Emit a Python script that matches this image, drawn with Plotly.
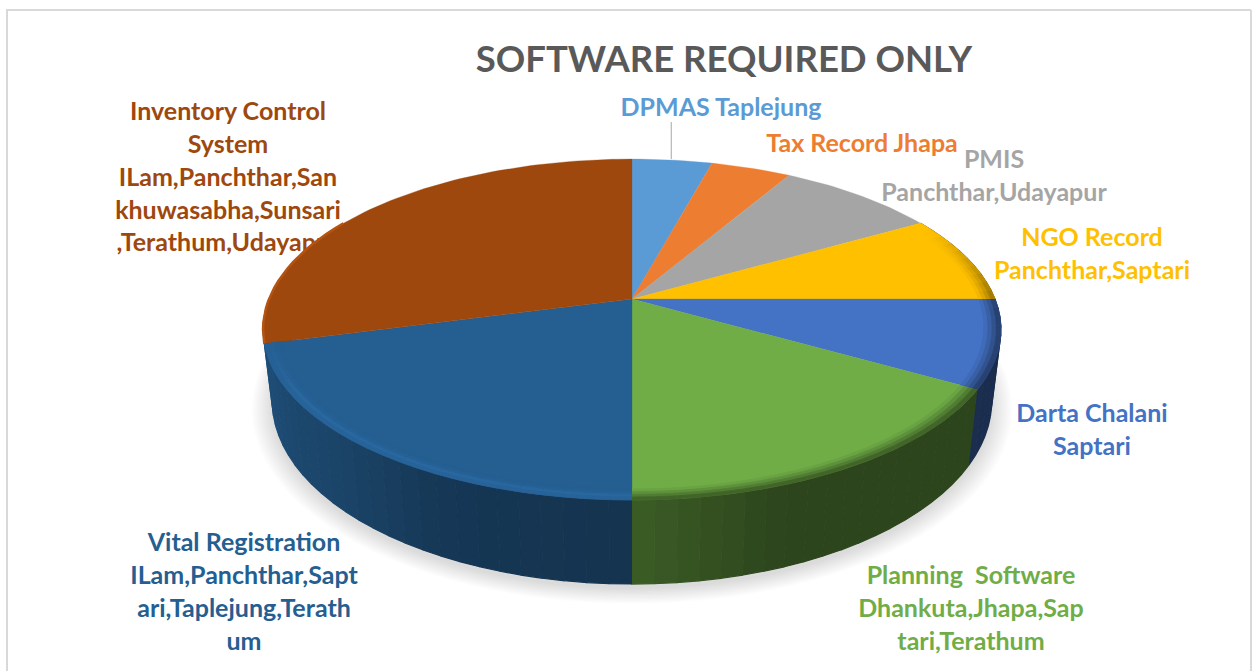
import numpy as np
import plotly.graph_objects as go

TITLE = "SOFTWARE REQUIRED ONLY"
names = ["DPMAS Taplejung", "Tax Record Jhapa", "PMIS Panchthar,Udayapur", "NGO Record Panchthar,Saptari",
         "Darta Chalani Saptari", "Planning Software Dhankuta,Jhapa,Saptari,Terathum",
         "Vital Registration ILam,Panchthar,Saptari,Taplejung,Terathum",
         "Inventory Control System ILam,Panchthar,Sankhuwasabha,Sunsari,Terathum,Udayapur"]
values = [1, 1, 2, 2, 2, 4, 5, 7]
colors = ["#5B9BD5", "#ED7D31", "#A5A5A5", "#FFC000", "#4472C4", "#70AD47", "#255E91", "#9E480E"]
label_lines = [
    ["DPMAS Taplejung"],
    ["Tax Record Jhapa"],
    ["PMIS", "Panchthar,Udayapur"],
    ["NGO Record", "Panchthar,Saptari"],
    ["Darta Chalani", "Saptari"],
    ["Planning  Software", "Dhankuta,Jhapa,Sap", "tari,Terathum"],
    ["Vital Registration", "ILam,Panchthar,Sapt", "ari,Taplejung,Terath", "um"],
    ["Inventory Control", "System", "ILam,Panchthar,San", "khuwasabha,Sunsari", ",Terathum,Udayapur"],
]
label_x = [721, 862, 994, 1092, 1092, 971, 244, 228]
label_y = [110, 146, 162, 240, 416, 578, 545, 114]

# camera of the tilted disc
CX, CY, RX, RY, PERSP, DEPTH, TAPER = 632, 299, 363, 165, 0.179, 69, 0.975
LINE_H = 32.8
FONT = "Lato"


def project(theta_deg, r=1.0, lower=False):
    t = np.radians(theta_deg)
    u, v = r * np.sin(t), r * np.cos(t)
    d = 1 + PERSP * v
    x = RX * u / d
    y = CY - RY * v / d
    if lower:
        y = y + DEPTH / d
        x = x * TAPER
    return CX + x, y


def hex_rgb(h):
    return np.array([int(h[i:i + 2], 16) for i in (1, 3, 5)], float)


def css(c):
    c = np.clip(c, 0, 255).round().astype(int)
    return f"rgb({c[0]},{c[1]},{c[2]})"


def poly(xs, ys, color, lw=0.6):
    return go.Scatter(x=xs, y=ys, mode="lines", fill="toself", fillcolor=color,
                      line=dict(color=color, width=lw), hoverinfo="skip", showlegend=False)


def text_trace(i):
    lines = label_lines[i]
    return go.Scatter(x=[label_x[i]] * len(lines), y=[label_y[i] + k * LINE_H for k in range(len(lines))],
                      mode="text", text=lines, textposition="middle center",
                      textfont=dict(family=FONT, size=25, color=colors[i], weight=700),
                      hoverinfo="skip", showlegend=False)


edges = np.concatenate([[0], np.cumsum(values)]) * 360.0 / sum(values)
fig = go.Figure()

# soft shadow under the body
ths = np.arange(0, 360.5, 3)
for grow in np.linspace(1.055, 1.0, 12):
    xs, ys = project(ths, grow, True)
    fig.add_trace(poly(xs, ys + 5, "rgba(0,0,0,0.011)", 0))

# the inventory label sits beneath the disc
fig.add_trace(text_trace(7))

# rim, drawn as narrow strips with a side light
STEP = 3
shade_t = [60, 120, 160, 178, 181, 205, 225, 255, 285]
shade_f = [.38, .40, .40, .52, .55, .58, .72, .82, .82]


def slice_of(th):
    return min(int(np.searchsorted(edges, th, side="right")) - 1, len(values) - 1)


for th in np.arange(60, 285, STEP):
    th2 = th + STEP
    # the last slice's wall is hidden: the wall of the slice before it runs on to the silhouette
    i = slice_of(min(th + STEP / 2, edges[-2] - 1))
    f = np.interp(th + STEP / 2, shade_t, shade_f)
    a = np.array([th, th2])
    xa, ya = project(a, 1.0)
    xb, yb = project(a[::-1], 1.0, True)
    fig.add_trace(poly(list(xa) + list(xb), list(ya) + list(yb), css(hex_rgb(colors[i]) * f), 1.2))

# top faces
for i in range(len(values)):
    a = np.linspace(edges[i], edges[i + 1], max(int(values[i]) * 12, 12))
    xs, ys = project(a)
    fig.add_trace(poly([CX] + list(xs) + [CX], [CY] + list(ys) + [CY], colors[i], 0.3))

# lit lip on the left end of the last slice
lip = np.linspace(edges[-2], edges[-2] + 45, 20)
xs, ys = project(lip)
fig.add_trace(go.Scatter(x=xs, y=ys, mode="lines", line=dict(color=css(hex_rgb(colors[-1]) * 1.15), width=2.5),
                         hoverinfo="skip", showlegend=False))

# bevel along the front edge
bands = [(0.955, 0.966), (0.966, 0.977), (0.977, 0.988), (0.988, 1.0)]
light_m = [1.0, 1.03, 1.1, 1.05]
dark_m = [0.94, 0.84, 0.72, 0.58]
for th in np.arange(60, 255, STEP):
    th2 = th + STEP
    i = slice_of(th + STEP / 2)
    base = hex_rgb(colors[i])
    a = np.array([th, th2])
    front = np.clip((th - 62) / 30, 0, 1) * np.clip((258 - th) / 22, 0, 1)
    for k, (r0, r1) in enumerate(bands):
        m = light_m[k] if th + STEP / 2 > 180 else dark_m[k]
        col = base * (1 + (m - 1) * front)
        xa, ya = project(a, r1)
        xb, yb = project(a[::-1], r0)
        fig.add_trace(poly(list(xa) + list(xb), list(ya) + list(yb), css(col), 0.8))

for i in range(7):
    fig.add_trace(text_trace(i))

fig.add_trace(go.Scatter(x=[724], y=[63], mode="text", text=[TITLE],
                         textfont=dict(family=FONT, size=36.5, color="#595959", weight=700),
                         textposition="middle center", hoverinfo="skip", showlegend=False))

# leader line of the first label
lx, ly = project((edges[0] + edges[1]) / 2)
fig.add_trace(go.Scatter(x=[lx - 1, lx - 1], y=[ly - 1, 122], mode="lines", line=dict(color="#A6A6A6", width=1),
                         hoverinfo="skip", showlegend=False))

border = dict(type="line", line=dict(color="#D9D9D9", width=2), xref="x", yref="y", layer="below")
fig.update_layout(
    width=1255, height=671, margin=dict(l=0, r=0, t=0, b=0),
    paper_bgcolor="white", plot_bgcolor="white", showlegend=False,
    xaxis=dict(range=[0, 1255], visible=False, fixedrange=True),
    yaxis=dict(range=[671, 0], visible=False, fixedrange=True),
    shapes=[dict(border, x0=7, x1=7, y0=10, y1=671), dict(border, x0=6, x1=1251, y0=10, y1=10),
            dict(border, x0=1251, x1=1251, y0=10, y1=671)],
)
fig.write_html("out.html", config=dict(displayModeBar=False),
               post_script="document.body.style.margin='0';document.body.style.overflow='hidden';")
